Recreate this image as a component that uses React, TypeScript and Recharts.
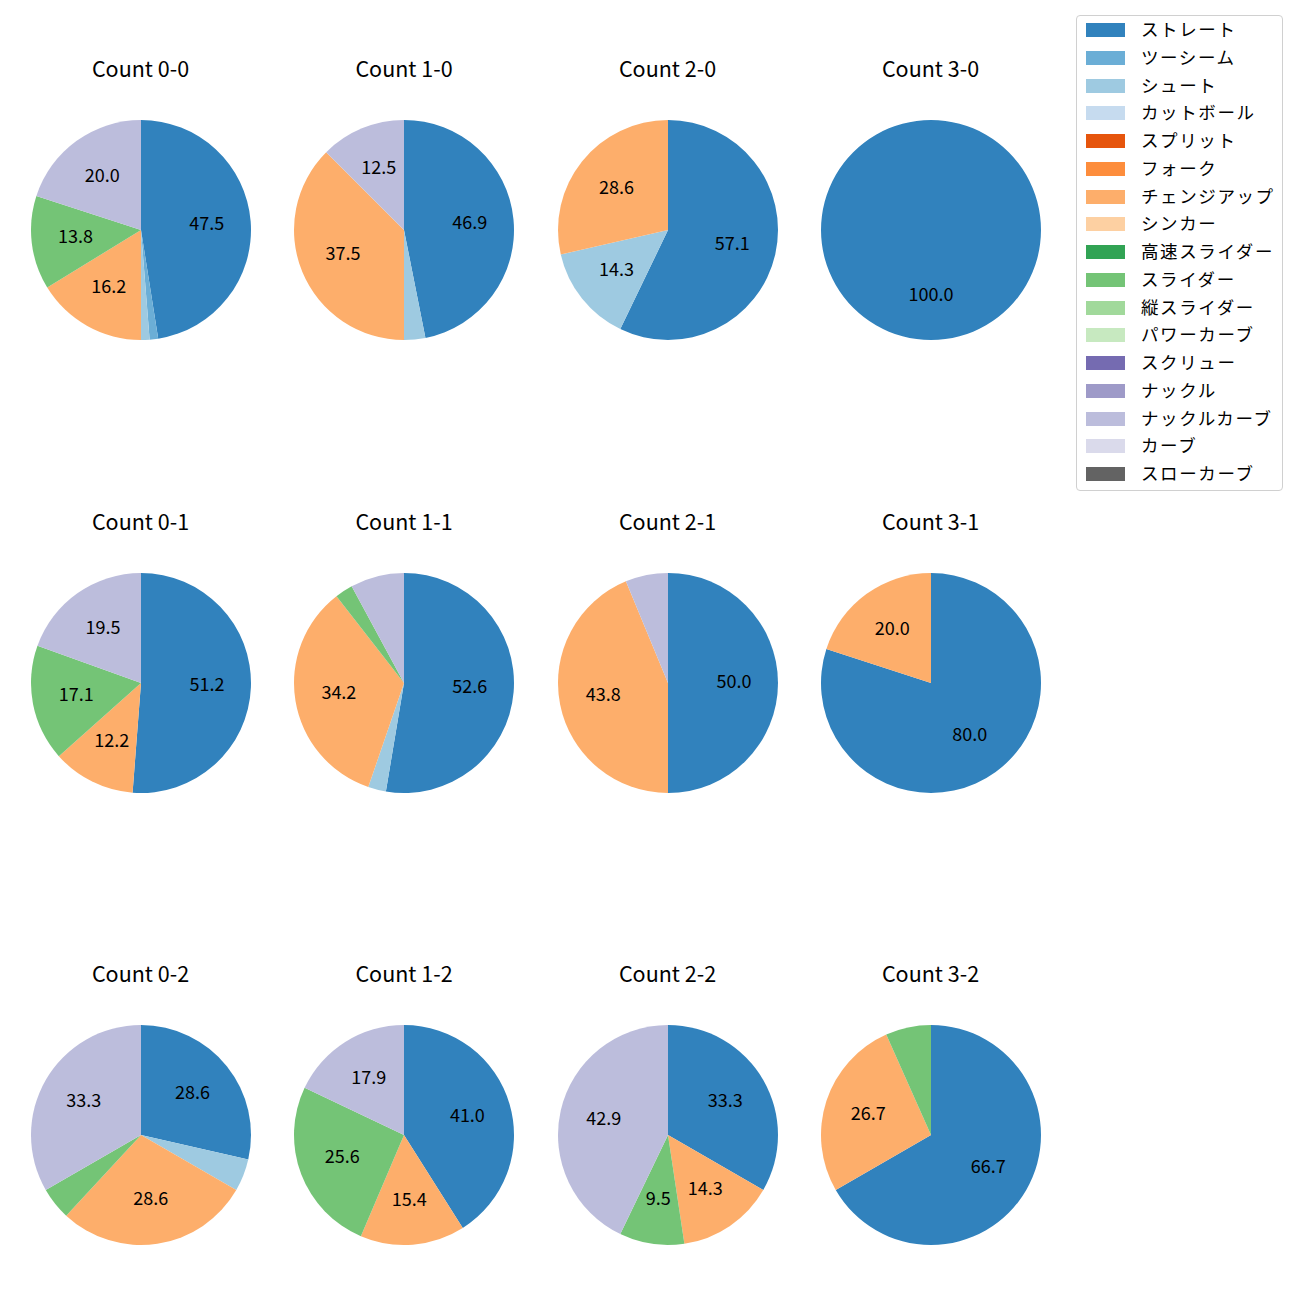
import { PieChart, Pie, Cell } from "recharts";

const pitchTypes = [
  "ストレート", "ツーシーム", "シュート", "カットボール", "スプリット", "フォーク",
  "チェンジアップ", "シンカー", "高速スライダー", "スライダー", "縦スライダー",
  "パワーカーブ", "スクリュー", "ナックル", "ナックルカーブ", "カーブ", "スローカーブ",
];

const pitchColors = [
  "#3182bd", "#6baed6", "#9ecae1", "#c6dbef", "#e6550d", "#fd8d3c",
  "#fdae6b", "#fdd0a2", "#31a354", "#74c476", "#a1d99b", "#c7e9c0",
  "#756bb1", "#9e9ac8", "#bcbddc", "#dadaeb", "#636363",
];

const countLabels = [
  "Count 0-0", "Count 1-0", "Count 2-0", "Count 3-0",
  "Count 0-1", "Count 1-1", "Count 2-1", "Count 3-1",
  "Count 0-2", "Count 1-2", "Count 2-2", "Count 3-2",
];

// share (%) per pitch type, same order as pitchTypes
const c00 = [47.5, 1.25, 1.25, 0, 0, 0, 16.24, 0, 0, 13.76, 0, 0, 0, 0, 20.0, 0, 0];
const c10 = [46.875, 0, 3.125, 0, 0, 0, 37.5, 0, 0, 0, 0, 0, 0, 0, 12.5, 0, 0];
const c20 = [57.14, 0, 14.29, 0, 0, 0, 28.57, 0, 0, 0, 0, 0, 0, 0, 0, 0, 0];
const c30 = [100, 0, 0, 0, 0, 0, 0, 0, 0, 0, 0, 0, 0, 0, 0, 0, 0];
const c01 = [51.22, 0, 0, 0, 0, 0, 12.2, 0, 0, 17.07, 0, 0, 0, 0, 19.51, 0, 0];
const c11 = [52.63, 0, 2.63, 0, 0, 0, 34.21, 0, 0, 2.63, 0, 0, 0, 0, 7.89, 0, 0];
const c21 = [50.0, 0, 0, 0, 0, 0, 43.75, 0, 0, 0, 0, 0, 0, 0, 6.25, 0, 0];
const c31 = [80.0, 0, 0, 0, 0, 0, 20.0, 0, 0, 0, 0, 0, 0, 0, 0, 0, 0];
const c02 = [28.57, 0, 4.76, 0, 0, 0, 28.57, 0, 0, 4.76, 0, 0, 0, 0, 33.33, 0, 0];
const c12 = [41.03, 0, 0, 0, 0, 0, 15.38, 0, 0, 25.64, 0, 0, 0, 0, 17.95, 0, 0];
const c22 = [33.33, 0, 0, 0, 0, 0, 14.29, 0, 0, 9.52, 0, 0, 0, 0, 42.86, 0, 0];
const c32 = [66.67, 0, 0, 0, 0, 0, 26.67, 0, 0, 6.67, 0, 0, 0, 0, 0, 0, 0];

const countValues = [c00, c10, c20, c30, c01, c11, c21, c31, c02, c12, c22, c32];

const colCenters = [140.5, 404, 667.5, 930.5];
const rowCenters = [230, 682.5, 1134.5];
const titleOffset = 161;
const R = 110;
const FONT = "'Noto Sans CJK JP', 'Noto Sans', sans-serif";
const RAD = Math.PI / 180;

const renderLabel = (props: any) => {
  const { cx, cy, midAngle, outerRadius, value } = props;
  if (value < 9) return null;
  const r = outerRadius * 0.6;
  const x = cx + r * Math.cos(-midAngle * RAD);
  const y = cy + r * Math.sin(-midAngle * RAD) - 3;
  return (
    <text x={x} y={y} textAnchor="middle" dominantBaseline="central" fill="#000" fontSize={18} fontFamily={FONT}>
      {value.toFixed(1)}
    </text>
  );
};

const CountPie = ({ idx }: { idx: number }) => {
  const cx = colCenters[idx % 4];
  const cy = rowCenters[Math.floor(idx / 4)];
  const data = countValues[idx]
    .map((v, i) => ({ name: pitchTypes[i], value: v, color: pitchColors[i] }))
    .filter((d) => d.value > 0);
  const size = 2 * R + 10;
  return (
    <>
      <div
        style={{
          position: "absolute",
          left: cx - 100,
          top: cy - titleOffset - 15,
          width: 200,
          textAlign: "center",
          fontSize: 21.5,
          fontFamily: FONT,
          color: "#000",
          lineHeight: "28px",
        }}
      >
        {countLabels[idx]}
      </div>
      <div style={{ position: "absolute", left: cx - size / 2, top: cy - size / 2 }}>
        <PieChart width={size} height={size} margin={{ top: 0, right: 0, bottom: 0, left: 0 }}>
          <Pie
            data={data}
            dataKey="value"
            nameKey="name"
            cx={size / 2}
            cy={size / 2}
            outerRadius={R}
            startAngle={90}
            endAngle={-270}
            stroke="none"
            label={renderLabel}
            labelLine={false}
            isAnimationActive={false}
          >
            {data.map((d) => (
              <Cell key={d.name} fill={d.color} />
            ))}
          </Pie>
        </PieChart>
      </div>
    </>
  );
};

const LegendBox = () => (
  <div
    style={{
      position: "absolute",
      left: 1076,
      top: 15,
      width: 207,
      height: 476,
      border: "1px solid #d0d0d0",
      borderRadius: 4,
      boxSizing: "border-box",
      background: "#fff",
    }}
  >
    {pitchTypes.map((p, i) => (
      <div key={p} style={{ position: "absolute", left: 0, top: i * 27.75, height: 28, width: 206 }}>
        <div
          style={{
            position: "absolute",
            left: 9,
            top: 7,
            width: 39,
            height: 14,
            background: pitchColors[i],
          }}
        />
        <div
          style={{
            position: "absolute",
            left: 64,
            top: -1,
            lineHeight: "28px",
            fontSize: 17.5,
            fontFamily: FONT,
            color: "#000",
            whiteSpace: "nowrap",
            letterSpacing: 1.6,
          }}
        >
          {p}
        </div>
      </div>
    ))}
  </div>
);

export default function App() {
  return (
    <div style={{ position: "absolute", left: 0, top: 0, width: 1300, height: 1300, background: "#fff" }}>
      {countLabels.map((_, i) => (
        <CountPie key={i} idx={i} />
      ))}
      <LegendBox />
    </div>
  );
}
